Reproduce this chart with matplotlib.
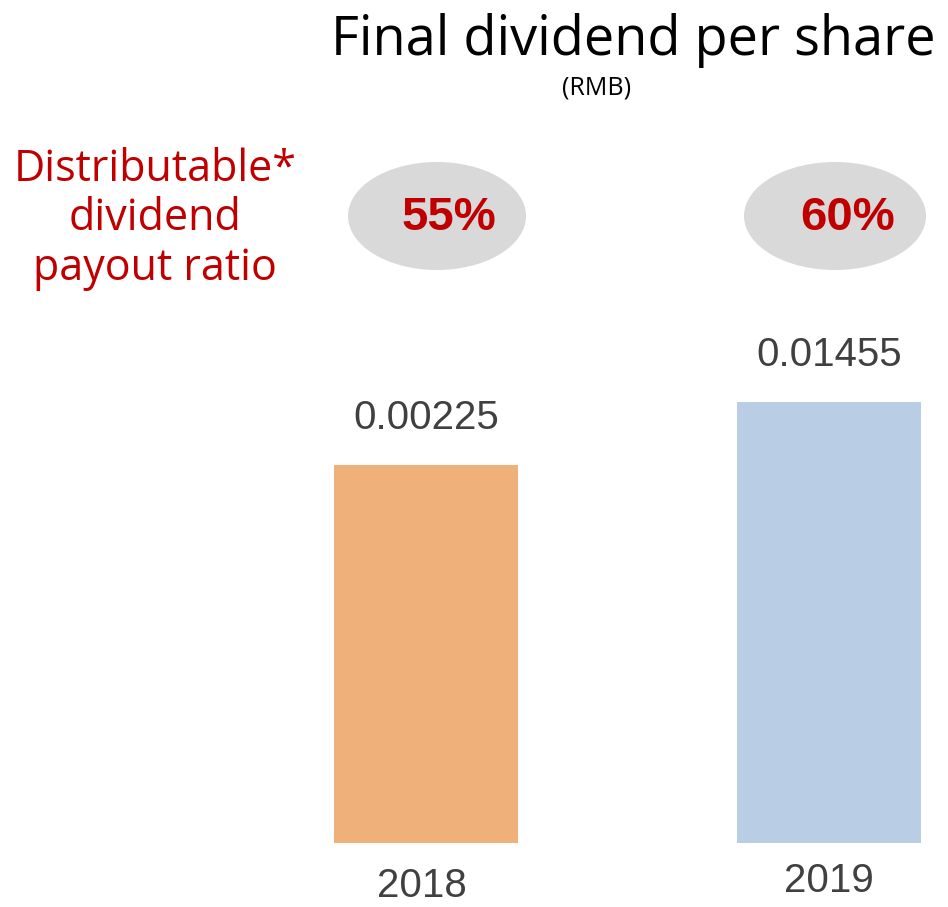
import matplotlib
matplotlib.use("Agg")
import matplotlib.pyplot as plt
from matplotlib.patches import Ellipse

# data
years = ["2018", "2019"]
dividend_labels = ["0.00225", "0.01455"]
bar_heights = [378, 441]          # drawn heights (bars are not to scale)
payout_ratios = ["55%", "60%"]
bar_colors = ["#F0B07A", "#B9CDE5"]

W, H = 948, 907
fig = plt.figure(figsize=(W / 100, H / 100), dpi=100)


def fx(px):
    return px / W


def fy(py):
    return 1 - py / H


# bar axes: bottom at pixel 843, categories centered at 426 and 829
ax = fig.add_axes([0, fy(843), 1, 843 / H])
ax.set_xlim((0 - 426) / 403, (W - 426) / 403)
ax.set_ylim(0, 843)
ax.axis("off")

xs = list(range(len(years)))
ax.bar(xs, bar_heights, width=184 / 403, color=bar_colors)
for x, h, lab in zip(xs, bar_heights, dividend_labels):
    ax.annotate(lab, (x, h), xytext=(0, 26), textcoords="offset points",
                ha="center", va="baseline", fontsize=29, color="#404040",
                family="Liberation Sans")

year_x = [422, 829]
year_y = [886, 881]
for yr, px, py in zip(years, year_x, year_y):
    fig.text(fx(px), fy(py), yr, ha="center", va="center", fontsize=29,
             color="#404040", family="Liberation Sans")

# title
fig.text(fx(633), fy(40), "Final dividend per share", ha="center", va="center",
         fontsize=39, color="black", family="Open Sans")
fig.text(fx(597), fy(88), "(RMB)", ha="center", va="center",
         fontsize=18, color="black", family="Open Sans")

# payout ratio label
fig.text(fx(155), fy(219), "Distributable*\ndividend\npayout ratio",
         ha="center", va="center", fontsize=31, color="#C00000",
         family="Open Sans", linespacing=1.15)

# ellipses with payout ratios
ell_x = [437, 835]
ell_w = [178, 182]
txt_x = [449, 848]
for cx, w, tx, r in zip(ell_x, ell_w, txt_x, payout_ratios):
    e = Ellipse((fx(cx), fy(216)), w / W, 108 / H, transform=fig.transFigure,
                facecolor="#D9D9D9", edgecolor="none")
    fig.patches.append(e)
    fig.text(fx(tx), fy(218), r, ha="center", va="center", fontsize=34,
             fontweight="bold", color="#C00000", family="Liberation Sans")

fig.savefig("out.png", dpi=100)
